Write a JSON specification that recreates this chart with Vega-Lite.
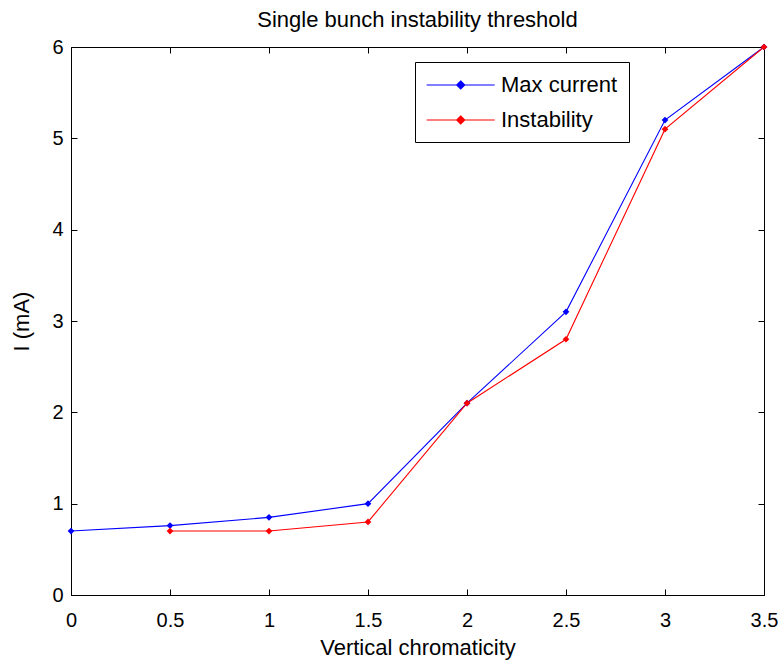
{
  "$schema": "https://vega.github.io/schema/vega-lite/v6.json",
  "autosize": "none",
  "width": 693,
  "height": 548,
  "padding": {"left": 71, "top": 47, "right": 14, "bottom": 65},
  "background": "white",
  "config": {
    "font": "Liberation Sans",
    "view": {"stroke": "black", "strokeWidth": 1},
    "axis": {"grid": false, "domain": false, "ticks": true, "tickColor": "#000000", "labelColor": "black", "titleColor": "black", "labelFontSize": 20, "titleFontSize": 22, "titleFontWeight": "normal", "tickSize": 6, "tickWidth": 1, "offset": -6, "labelFlush": false}
  },
  "title": {"text": "Single bunch instability threshold", "fontSize": 22, "fontWeight": "normal", "offset": 5, "color": "black"},
  "data": {"values": [
    {"x": 0, "y": 0.7, "s": "Max current"},
    {"x": 0.5, "y": 0.76, "s": "Max current"},
    {"x": 1, "y": 0.85, "s": "Max current"},
    {"x": 1.5, "y": 1.0, "s": "Max current"},
    {"x": 2, "y": 2.1, "s": "Max current"},
    {"x": 2.5, "y": 3.1, "s": "Max current"},
    {"x": 3, "y": 5.2, "s": "Max current"},
    {"x": 3.5, "y": 6.0, "s": "Max current"},
    {"x": 0.5, "y": 0.7, "s": "Instability"},
    {"x": 1, "y": 0.7, "s": "Instability"},
    {"x": 1.5, "y": 0.8, "s": "Instability"},
    {"x": 2, "y": 2.1, "s": "Instability"},
    {"x": 2.5, "y": 2.8, "s": "Instability"},
    {"x": 3, "y": 5.1, "s": "Instability"},
    {"x": 3.5, "y": 6.0, "s": "Instability"}
  ]},
  "encoding": {
    "color": {"field": "s", "type": "nominal", "scale": {"domain": ["Max current", "Instability"], "range": ["#0000ff", "#ff0000"]},
      "legend": {"title": null, "orient": "none", "legendX": 344, "legendY": 15, "direction": "vertical", "strokeColor": "black", "fillColor": "white", "padding": 11, "labelFontSize": 22, "labelColor": "black", "symbolType": "M-1,0H5M2,-0.35L2.35,0L2,0.35L1.65,0Z", "symbolSize": 515, "symbolStrokeWidth": 1.2, "rowPadding": 12, "labelOffset": 51, "symbolOffset": 0}}
  },
  "layer": [
    {"mark": {"type": "line", "strokeWidth": 1.1},
     "encoding": {
       "x": {"field": "x", "type": "quantitative", "scale": {"domain": [0, 3.5], "nice": false}, "axis": {"title": "Vertical chromaticity", "format": "~g", "values": [0, 0.5, 1, 1.5, 2, 2.5, 3, 3.5], "labelPadding": 15, "titlePadding": 7}},
       "y": {"field": "y", "type": "quantitative", "scale": {"domain": [0, 6], "nice": false}, "axis": {"title": "I (mA)", "values": [0, 1, 2, 3, 4, 5, 6], "labelPadding": 8, "titlePadding": 18}}
     }},
    {"mark": {"type": "point", "shape": "diamond", "filled": true, "size": 45, "opacity": 1},
     "encoding": {
       "x": {"field": "x", "type": "quantitative", "axis": {"orient": "top", "title": null, "labels": false, "values": [0, 0.5, 1, 1.5, 2, 2.5, 3, 3.5]}},
       "y": {"field": "y", "type": "quantitative", "axis": {"orient": "right", "title": null, "labels": false, "values": [0, 1, 2, 3, 4, 5, 6]}}
     }}
  ],
  "resolve": {"axis": {"x": "independent", "y": "independent"}}
}
